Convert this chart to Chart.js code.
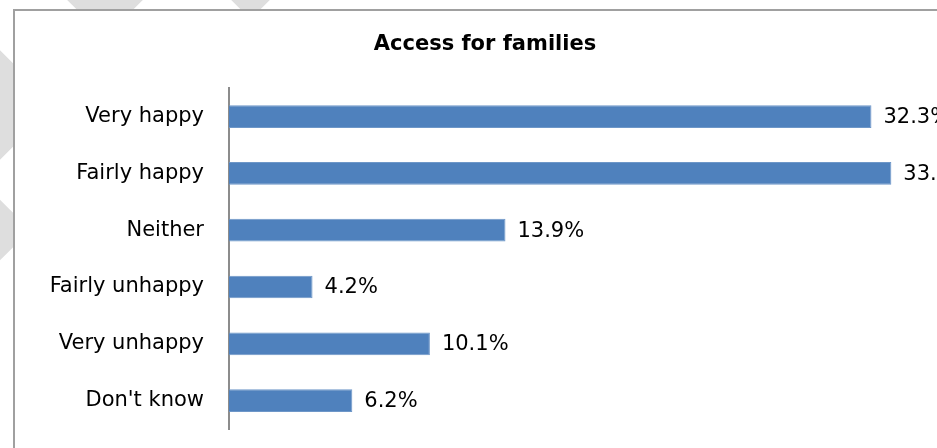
<!DOCTYPE html>
<html>
<head>
<meta charset="utf-8">
<script src="https://cdn.jsdelivr.net/npm/chart.js@4"></script>
<style>
    body { margin: 0; width: 937px; height: 448px; overflow: hidden; background: #fff; position: relative; }
    .mark { position: absolute; background: #dedede; transform: rotate(45deg); }
    #frame { position: absolute; left: 13px; top: 9px; width: 962px; height: 450px; border: 2px solid #a0a0a0; background: #fff; }
    #frame canvas { position: absolute; left: 0; top: 0; }
</style>
</head>
<body>
<!-- faint watermark bits poking out around the frame -->
<div class="mark" style="left:50px; top:-95px; width:110px; height:110px;"></div>
<div class="mark" style="left:228px; top:-35px; width:45px; height:45px;"></div>
<div class="mark" style="left:-90px; top:45px; width:120px; height:120px;"></div>
<div class="mark" style="left:-30px; top:205px; width:50px; height:50px;"></div>
<div id="frame"><canvas id="chart" width="962" height="450"></canvas></div>
<script>
// data
const categories = ['Very happy', 'Fairly happy', 'Neither', 'Fairly unhappy', 'Very unhappy', "Don't know"];
const shares = [32.3, 33.3, 13.9, 4.2, 10.1, 6.2];
const chartTitle = 'Access for families';

const font = 'DejaVu Sans';

// draw "xx.x%" just past the bar end
const valueLabels = {
    id: 'valueLabels',
    afterDatasetsDraw(chart) {
        const ctx = chart.ctx;
        const meta = chart.getDatasetMeta(0);
        ctx.save();
        ctx.font = `21px "${font}"`;
        ctx.fillStyle = '#000';
        ctx.textAlign = 'left';
        ctx.textBaseline = 'middle';
        meta.data.forEach((bar, i) => {
            ctx.fillText(shares[i].toFixed(1) + '%', bar.x + 12, bar.y + 1);
        });
        ctx.restore();
    }
};

new Chart(document.getElementById('chart'), {
    type: 'bar',
    data: {
        labels: categories,
        datasets: [{
            data: shares,
            backgroundColor: '#4F81BD',
            borderColor: '#6E97C8',
            borderWidth: 1,
            barPercentage: 0.4,
            categoryPercentage: 1
        }]
    },
    options: {
        indexAxis: 'y',
        responsive: false,
        animation: false,
        layout: { padding: { left: 0, right: 22, top: 0, bottom: 32 } },
        plugins: {
            legend: { display: false },
            tooltip: { enabled: false },
            title: {
                display: true,
                text: chartTitle,
                color: '#000',
                font: { family: font, size: 21, weight: 'bold' },
                padding: { top: 21, bottom: 31 }
            }
        },
        scales: {
            x: {
                display: false,
                min: 0,
                max: 36.5
            },
            y: {
                afterFit(scale) {
                    scale.width = 214;
                    scale.paddingTop = 0;
                    scale.paddingBottom = 0;
                },
                grid: { display: false, drawTicks: false },
                border: { display: true, color: '#8c8c8c', width: 2 },
                ticks: {
                    color: '#000',
                    padding: 25,
                    font: { family: font, size: 21 }
                }
            }
        }
    },
    plugins: [valueLabels]
});
</script>
</body>
</html>
